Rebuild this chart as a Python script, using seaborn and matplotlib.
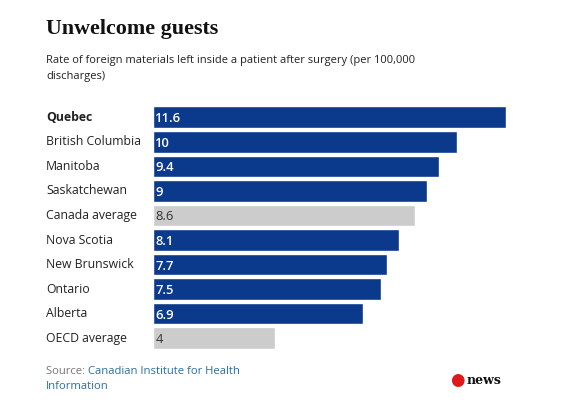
import matplotlib
matplotlib.use("Agg")
import matplotlib.pyplot as plt
import matplotlib.transforms as mtransforms
import seaborn as sns
import pandas as pd

categories = ["Quebec", "British Columbia", "Manitoba", "Saskatchewan", "Canada average",
              "Nova Scotia", "New Brunswick", "Ontario", "Alberta", "OECD average"]
values = [11.6, 10, 9.4, 9, 8.6, 8.1, 7.7, 7.5, 6.9, 4]
value_labels = ["11.6", "10", "9.4", "9", "8.6", "8.1", "7.7", "7.5", "6.9", "4"]
is_average = [False, False, False, False, True, False, False, False, False, True]

BLUE = "#0b3a8c"
GRAY = "#cccccc"

sns.set_theme(style="white")
plt.rcParams["font.family"] = ["Open Sans", "DejaVu Sans"]

W, H = 566, 411
fig = plt.figure(figsize=(W / 100, H / 100), dpi=100)
fig.patch.set_facecolor("white")

ax_left, ax_right = 153, 506
ax_top, ax_bot = 105.0, 350.5
ax = fig.add_axes([ax_left / W, 1 - ax_bot / H, (ax_right - ax_left) / W, (ax_bot - ax_top) / H])

df = pd.DataFrame({"cat": categories, "val": values})
palette = {c: (GRAY if a else BLUE) for c, a in zip(categories, is_average)}
sns.barplot(data=df, x="val", y="cat", hue="cat", palette=palette, legend=False,
            width=0.88, ax=ax, saturation=1, order=categories)

ax.set_xlim(0, max(values))
ax.set_ylim(len(categories) - 0.5, -0.5)
ax.axis("off")

# value labels inside bars
for i, (v, lab, a) in enumerate(zip(values, value_labels, is_average)):
    ax.text(0.08, i + 0.06, lab, va="center", ha="left", fontsize=9.4,
            color=("#333333" if a else "white"), fontweight=("normal" if a else "semibold"))

# category labels at left
trans = mtransforms.blended_transform_factory(fig.transFigure, ax.transData)
for i, c in enumerate(categories):
    ax.text(46 / W, i, c, transform=trans, va="center", ha="left", fontsize=8.8,
            color="#222222", fontweight=("bold" if i == 0 else "normal"))

# title & subtitle
fig.text(46 / W, 1 - 29 / H, "Unwelcome guests", fontsize=15.8, family=["Liberation Serif"],
         fontweight="bold", color="#111111", va="center", ha="left")
fig.text(46 / W, 1 - 60 / H, "Rate of foreign materials left inside a patient after surgery (per 100,000",
         fontsize=8.05, color="#222222", va="center", ha="left")
fig.text(46 / W, 1 - 77 / H, "discharges)", fontsize=8.05, color="#222222", va="center", ha="left")

# source
t = fig.text(46 / W, 1 - 371 / H, "Source: ", fontsize=8.1, color="#777777", va="center", ha="left")
fig.canvas.draw()
bb = t.get_window_extent()
fig.text(bb.x1 / W, 1 - 371 / H, "Canadian Institute for Health", fontsize=8.1, color="#2a6ea6",
         va="center", ha="left")
fig.text(46 / W, 1 - 386 / H, "Information", fontsize=8.1, color="#2a6ea6", va="center", ha="left")

# CBC news mark
fig.text(457 / W, 1 - 380 / H, "\u25CF", fontsize=12, color="#e0191a", va="center", ha="center",
         family=["DejaVu Sans"])
fig.text(467 / W, 1 - 380 / H, "news", fontsize=9, color="#111111", va="center", ha="left",
         family=["DejaVu Serif"], fontweight="bold")

fig.savefig("out.png", dpi=100, facecolor="white")
